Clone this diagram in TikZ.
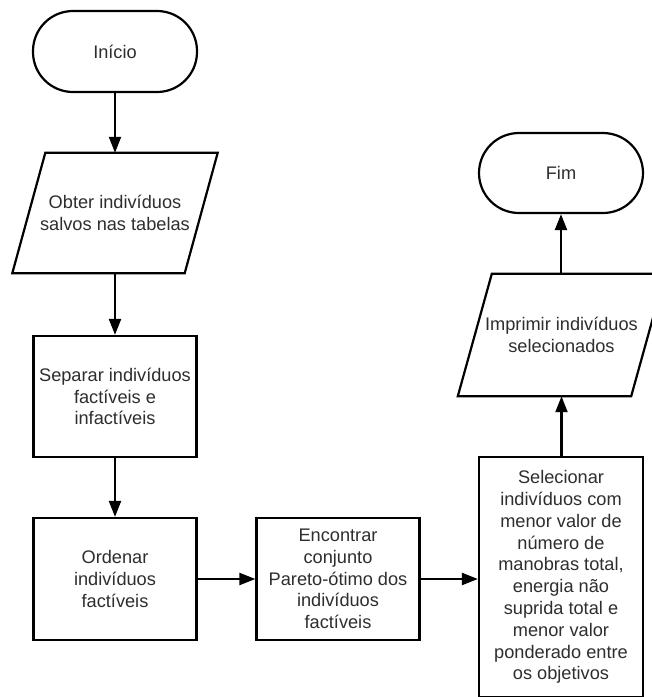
\documentclass[tikz,border=0pt]{standalone}
\usepackage{fontspec}
\setmainfont{Liberation Sans}
\usetikzlibrary{arrows.meta,calc}
\begin{document}
\begin{tikzpicture}[x=1pt,y=-1pt,
  txt/.style={inner sep=0pt, align=center, font=\fontsize{18.2}{21.8}\selectfont, text=black!82},
  box/.style={txt, draw, line width=2.2pt, minimum width=163pt},
  term/.style={box, rounded corners=40pt, minimum width=164pt, minimum height=81pt},
  io/.style={txt},
  shapeline/.style={line width=2.2pt, line join=miter},
  arr/.style={line width=2.2pt, -{Triangle[length=16pt,width=12pt]}}]
\clip (0,0) rectangle (652,697);
\fill[white] (0,0) rectangle (652,697);

\node[term] (start) at (115,51.5) {Início};

\node[io, minimum width=205pt, minimum height=120pt] (in1) at (115,213) {Obter indivíduos\\salvos nas tabelas};
\draw[shapeline] ($(in1.north west)+(33pt,0)$) -- (in1.north east) -- ($(in1.south east)-(33pt,0)$) -- (in1.south west) -- cycle;

\node[box, minimum height=121pt] (sep) at (115,396.5) {Separar indivíduos\\factíveis e\\infactíveis};
\node[box, minimum height=122pt] (ord) at (115,579) {Ordenar\\indivíduos\\factíveis};
\node[box, minimum height=122pt] (enc) at (338,579) {Encontrar\\conjunto\\Pareto-ótimo dos\\indivíduos\\factíveis};
\node[box, minimum width=164pt, minimum height=240pt] (sel) at (561,577) {Selecionar\\indivíduos com\\menor valor de\\número de\\manobras total,\\energia não\\suprida total e\\menor valor\\ponderado entre\\os objetivos};

\node[io, minimum width=207pt, minimum height=122pt] (out) at (561.5,335) {Imprimir indivíduos\\selecionados};
\draw[shapeline] ($(out.north west)+(34pt,0)$) -- (out.north east) -- ($(out.south east)-(34pt,0)$) -- (out.south west) -- cycle;

\node[term, minimum height=80pt] (fim) at (561,173) {Fim};

\draw[arr] (start.south) -- (in1.north);
\draw[arr] (in1.south) -- (sep.north);
\draw[arr] (sep.south) -- (ord.north);
\draw[arr] (ord.east) -- (enc.west);
\draw[arr] (enc.east) -- (enc.east -| sel.west);
\draw[arr] (sel.north -| out.south) -- (out.south);
\draw[arr] (out.north) -- (out.north -| fim.south) -- (fim.south);
\end{tikzpicture}
\end{document}
